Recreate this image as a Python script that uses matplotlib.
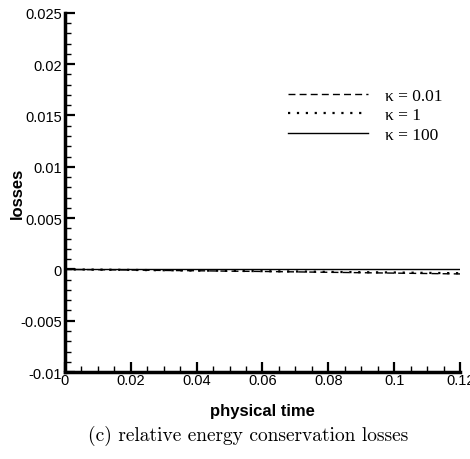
import matplotlib.pyplot as plt
from matplotlib.ticker import MultipleLocator
import numpy as np

plt.rcParams['font.family'] = ['Liberation Sans', 'DejaVu Sans']

# values
time = [0.0, 0.01, 0.02, 0.03, 0.04, 0.05, 0.06, 0.07, 0.08, 0.09, 0.10, 0.11, 0.12]
loss_k001 = [0.0, -0.00003, -0.00006, -0.0001, -0.00013, -0.00017, -0.0002,
             -0.00024, -0.00028, -0.00032, -0.00036, -0.0004, -0.00044]
loss_k1 = [0.0, -0.00002, -0.00005, -0.00008, -0.00011, -0.00014, -0.00017,
           -0.0002, -0.00024, -0.00027, -0.0003, -0.00034, -0.00037]
loss_k100 = [0.0] * len(time)
labels = ['\u03ba = 0.01', '\u03ba = 1', '\u03ba = 100']
xticks = [0, 0.02, 0.04, 0.06, 0.08, 0.1, 0.12]
xtick_labels = ['0', '0.02', '0.04', '0.06', '0.08', '0.1', '0.12']
yticks = [-0.01, -0.005, 0, 0.005, 0.01, 0.015, 0.02, 0.025]
ytick_labels = ['-0.01', '-0.005', '0', '0.005', '0.01', '0.015', '0.02', '0.025']

fig = plt.figure(figsize=(4.7, 4.6), dpi=100)
ax = fig.add_axes([0.138, 0.189, 0.841, 0.781])

l1, = ax.plot(time, loss_k001, color='k', lw=1.0, ls=(0, (5, 3)))
l2, = ax.plot(time, loss_k1, color='k', lw=1.6, ls=(0, (1, 3)))
l3, = ax.plot(time, loss_k100, color='k', lw=1.0, ls='-')

ax.set_xlim(0, 0.12)
ax.set_ylim(-0.01, 0.025)
ax.set_xticks(xticks)
ax.set_xticklabels(xtick_labels)
ax.set_yticks(yticks)
ax.set_yticklabels(ytick_labels)
ax.xaxis.set_minor_locator(MultipleLocator(0.005))
ax.yaxis.set_minor_locator(MultipleLocator(0.001))
ax.tick_params(which='major', direction='in', length=7, width=1.6, labelsize=10.5, pad=2)
ax.tick_params(which='minor', direction='in', length=4, width=1.0)
ax.tick_params(axis='x', pad=1)

for s in ['top', 'right']:
    ax.spines[s].set_visible(False)
for s in ['left', 'bottom']:
    ax.spines[s].set_linewidth(2.5)

ax.set_xlabel('physical time', fontsize=12, fontweight='bold', labelpad=11)
ax.set_ylabel('losses', fontsize=12, fontweight='bold', labelpad=-3)

leg = ax.legend([l1, l2, l3], labels, loc='upper right', bbox_to_anchor=(0.995, 0.835),
                frameon=False, handlelength=4.6, handletextpad=1.0, labelspacing=0.2,
                prop={'family': 'Liberation Serif', 'size': 12.5})

fig.text(0.528, 0.052, '(c) relative energy conservation losses', ha='center', va='center',
         fontsize=14, family=['cmr10', 'DejaVu Serif'])

fig.savefig('out.png', dpi=100)
